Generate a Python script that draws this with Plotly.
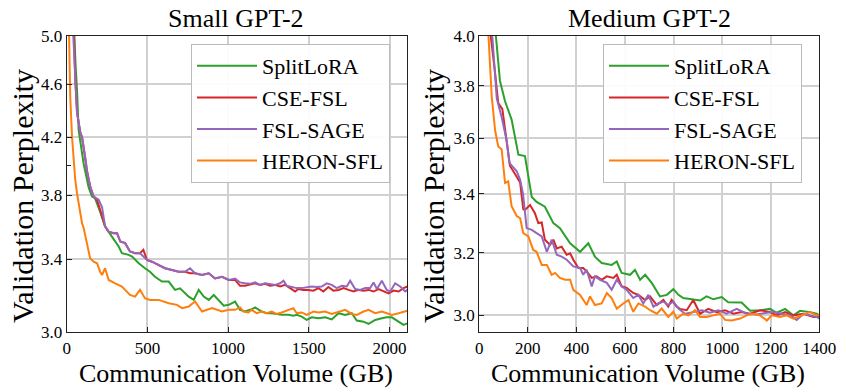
import plotly.graph_objects as go
import math

# ---------------- data: Small GPT-2 ----------------
s_green_x = [40, 47, 54, 64, 74, 105, 136, 157, 175, 207, 237, 280, 322, 342, 384, 405, 446, 485, 516, 547, 590, 632,
             671, 702, 756, 787, 818, 849, 880, 911, 942, 973, 1004, 1043, 1074, 1105, 1146, 1167, 1208, 1239, 1270,
             1332, 1373, 1404, 1425, 1456, 1487, 1518, 1560, 1601, 1642, 1684, 1725, 1766, 1797, 1839, 1870, 1911,
             1952, 1983, 2014, 2056, 2087, 2110]
s_green_y = [5.3, 5.0, 4.78, 4.55, 4.25, 4.01, 3.85, 3.79, 3.78, 3.693, 3.60, 3.537, 3.477, 3.437, 3.427, 3.417,
             3.378, 3.349, 3.329, 3.30, 3.273, 3.273, 3.226, 3.235, 3.189, 3.171, 3.226, 3.189, 3.171, 3.198, 3.171,
             3.139, 3.144, 3.162, 3.117, 3.108, 3.12, 3.13, 3.108, 3.099, 3.099, 3.09, 3.09, 3.085, 3.09, 3.081,
             3.063, 3.077, 3.072, 3.077, 3.066, 3.099, 3.09, 3.099, 3.06, 3.054, 3.042, 3.063, 3.072, 3.077, 3.077,
             3.054, 3.037, 3.045]

s_red_x = [38, 43, 54, 64, 85, 95, 116, 126, 147, 167, 188, 207, 238, 260, 291, 312, 332, 362, 392, 424, 454, 475,
           497, 528, 570, 609, 652, 694, 733, 764, 795, 838, 880, 919, 962, 1004, 1043, 1074, 1105, 1136, 1167, 1198,
           1229, 1260, 1291, 1322, 1353, 1384, 1415, 1435, 1466, 1497, 1528, 1560, 1590, 1621, 1652, 1684, 1715,
           1746, 1777, 1808, 1839, 1870, 1901, 1932, 1963, 1994, 2025, 2056, 2087, 2110]
s_red_y = [5.3, 5.0, 4.62, 4.38, 4.23, 4.2, 4.05, 3.96, 3.85, 3.79, 3.769, 3.704, 3.60, 3.567, 3.557, 3.557, 3.507,
           3.497, 3.447, 3.437, 3.437, 3.457, 3.397, 3.387, 3.368, 3.349, 3.339, 3.329, 3.329, 3.32, 3.32, 3.31,
           3.32, 3.29, 3.30, 3.282, 3.282, 3.249, 3.249, 3.254, 3.263, 3.254, 3.26, 3.249, 3.254, 3.245, 3.254,
           3.236, 3.217, 3.231, 3.226, 3.226, 3.222, 3.236, 3.217, 3.242, 3.222, 3.226, 3.236, 3.226, 3.217, 3.226,
           3.222, 3.226, 3.217, 3.231, 3.217, 3.207, 3.222, 3.217, 3.236, 3.245]

s_purple_x = [36, 41, 54, 64, 85, 95, 116, 126, 147, 167, 198, 219, 238, 260, 291, 312, 332, 362, 392, 424, 454,
              497, 528, 570, 609, 652, 694, 733, 764, 795, 838, 880, 919, 962, 1004, 1043, 1074, 1105, 1136, 1167,
              1198, 1229, 1260, 1291, 1322, 1343, 1363, 1394, 1425, 1456, 1487, 1518, 1549, 1580, 1611, 1642, 1673,
              1704, 1735, 1756, 1787, 1818, 1849, 1880, 1901, 1922, 1952, 1983, 2004, 2035, 2066, 2097, 2110]
s_purple_y = [5.3, 5.0, 4.62, 4.38, 4.23, 4.2, 4.05, 3.96, 3.85, 3.79, 3.77, 3.72, 3.60, 3.567, 3.557, 3.557, 3.507,
              3.497, 3.447, 3.437, 3.437, 3.397, 3.387, 3.368, 3.349, 3.339, 3.329, 3.329, 3.349, 3.32, 3.31, 3.32,
              3.29, 3.30, 3.282, 3.29, 3.268, 3.263, 3.26, 3.268, 3.254, 3.263, 3.26, 3.254, 3.263, 3.278, 3.249,
              3.242, 3.236, 3.236, 3.242, 3.245, 3.242, 3.245, 3.263, 3.254, 3.236, 3.249, 3.245, 3.278, 3.231, 3.226,
              3.236, 3.236, 3.268, 3.231, 3.278, 3.226, 3.217, 3.263, 3.245, 3.217, 3.226]

s_orange_x = [0, 12, 22, 33, 53, 64, 85, 95, 105, 126, 145, 167, 188, 207, 219, 238, 260, 300, 342, 362, 392, 424,
              454, 485, 516, 570, 632, 683, 715, 756, 795, 838, 901, 962, 1004, 1043, 1074, 1095, 1126, 1146, 1177,
              1208, 1239, 1270, 1301, 1332, 1373, 1404, 1425, 1456, 1487, 1529, 1560, 1601, 1642, 1684, 1725, 1766,
              1797, 1839, 1870, 1911, 1952, 1983, 2014, 2056, 2087, 2110]
s_orange_y = [6.2, 5.0, 4.5, 4.2, 3.90, 3.81, 3.66, 3.62, 3.59, 3.497, 3.407, 3.387, 3.378, 3.329, 3.31, 3.349,
              3.282, 3.263, 3.245, 3.226, 3.198, 3.189, 3.226, 3.18, 3.171, 3.171, 3.153, 3.144, 3.126, 3.135, 3.162,
              3.108, 3.126, 3.108, 3.117, 3.117, 3.13, 3.108, 3.103, 3.117, 3.099, 3.108, 3.099, 3.108, 3.095, 3.103,
              3.117, 3.126, 3.099, 3.103, 3.09, 3.108, 3.103, 3.108, 3.095, 3.108, 3.117, 3.095, 3.09, 3.108, 3.117,
              3.099, 3.108, 3.099, 3.09, 3.099, 3.108, 3.112]

# ---------------- data: Medium GPT-2 ----------------
m_green_x = [55, 67, 85, 106, 133, 161, 188, 216, 236, 270, 305, 332, 374, 415, 449, 476, 504, 545, 566, 586, 621,
             641, 662, 683, 710, 744, 772, 799, 820, 840, 881, 909, 936, 964, 998, 1025, 1080, 1115, 1156, 1197,
             1225, 1259, 1293, 1321, 1362, 1389, 1400]
m_green_y = [4.15, 4.0, 3.82, 3.74, 3.67, 3.54, 3.535, 3.389, 3.372, 3.355, 3.299, 3.282, 3.231, 3.203, 3.231,
             3.187, 3.166, 3.16, 3.171, 3.134, 3.128, 3.144, 3.112, 3.128, 3.102, 3.059, 3.064, 3.082, 3.064, 3.054,
             3.05, 3.046, 3.059, 3.05, 3.057, 3.041, 3.04, 3.014, 3.016, 3.02, 3.008, 3.02, 3.0, 3.014, 3.01, 3.005,
             3.0]

m_red_x = [40, 47, 65, 78, 95, 115, 126, 154, 168, 181, 188, 209, 229, 243, 257, 270, 291, 305, 319, 339, 360, 374,
           387, 408, 428, 442, 463, 483, 504, 525, 552, 566, 586, 607, 634, 655, 683, 703, 731, 758, 778, 792, 813,
           826, 854, 881, 909, 943, 978, 1012, 1046, 1080, 1115, 1156, 1197, 1225, 1259, 1293, 1335, 1376, 1400]
m_red_y = [4.12, 4.0, 3.85, 3.733, 3.71, 3.57, 3.50, 3.46, 3.44, 3.346, 3.344, 3.361, 3.333, 3.299, 3.301, 3.243,
           3.226, 3.243, 3.214, 3.22, 3.193, 3.198, 3.177, 3.15, 3.15, 3.139, 3.118, 3.123, 3.112, 3.123, 3.118,
           3.128, 3.091, 3.086, 3.07, 3.064, 3.048, 3.059, 3.032, 3.048, 3.027, 3.048, 3.027, 3.02, 3.016, 3.048,
           3.005, 3.02, 3.01, 3.016, 3.005, 3.01, 3.005, 3.016, 3.01, 3.0, 3.01, 3.0, 3.005, 2.995, 2.995]

m_purple_x = [45, 54, 72, 92, 113, 124, 154, 168, 180, 195, 216, 236, 257, 278, 298, 319, 339, 360, 387, 415, 428,
              442, 463, 476, 497, 525, 545, 566, 586, 607, 634, 655, 675, 696, 717, 737, 758, 778, 799, 820, 847, 881,
              916, 950, 984, 1018, 1060, 1101, 1142, 1184, 1211, 1245, 1280, 1307, 1335, 1362, 1389, 1400]
m_purple_y = [4.12, 4.0, 3.75, 3.68, 3.59, 3.51, 3.48, 3.45, 3.40, 3.282, 3.276, 3.265, 3.254, 3.203, 3.243, 3.193,
              3.187, 3.177, 3.155, 3.15, 3.128, 3.144, 3.091, 3.123, 3.112, 3.102, 3.08, 3.112, 3.091, 3.08, 3.054,
              3.064, 3.037, 3.064, 3.027, 3.037, 3.043, 3.032, 3.043, 3.021, 3.005, 3.01, 3.016, 3.008, 3.016, 3.005,
              3.02, 3.005, 3.003, 3.008, 3.01, 3.005, 3.0, 2.986, 3.005, 3.0, 2.995, 2.99]

m_orange_x = [30, 37, 51, 65, 78, 92, 106, 119, 133, 154, 168, 181, 202, 222, 236, 257, 278, 298, 312, 332, 353, 374,
              387, 415, 442, 456, 476, 504, 525, 545, 566, 593, 614, 634, 655, 683, 703, 731, 751, 778, 799, 813, 840,
              861, 888, 909, 936, 964, 991, 1012, 1039, 1074, 1101, 1128, 1156, 1184, 1204, 1238, 1266, 1293, 1328,
              1362, 1389, 1400]
m_orange_y = [4.15, 4.0, 3.76, 3.63, 3.57, 3.56, 3.438, 3.444, 3.357, 3.323, 3.316, 3.265, 3.254, 3.209, 3.203, 3.16,
              3.16, 3.128, 3.134, 3.118, 3.112, 3.112, 3.08, 3.064, 3.032, 3.059, 3.032, 3.037, 3.07, 3.054, 3.021,
              3.037, 3.048, 3.011, 3.037, 3.027, 3.016, 3.005, 3.021, 2.995, 3.011, 2.99, 3.005, 3.0, 3.016, 2.995,
              2.995, 3.0, 3.005, 2.986, 2.984, 2.99, 3.0, 3.005, 3.0, 2.984, 3.0, 2.995, 3.0, 2.99, 3.0, 3.01, 3.0,
              3.0]

series_names = ["SplitLoRA", "CSE-FSL", "FSL-SAGE", "HERON-SFL"]
series_colors = ["#2ca02c", "#d62728", "#9467bd", "#ff7f0e"]

s_ticks = [3.0, 3.4, 3.8, 4.2, 4.6, 5.0]
s_ticktext = ["3.0", "3.4", "3.8", "4.2", "4.6", "5.0"]
m_ticks = [3.0, 3.2, 3.4, 3.6, 3.8, 4.0]
m_ticktext = ["3.0", "3.2", "3.4", "3.6", "3.8", "4.0"]
s_xticks = [0, 500, 1000, 1500, 2000]
m_xticks = [0, 200, 400, 600, 800, 1000, 1200, 1400]

FONT = "Liberation Serif, Times New Roman, serif"
W, H = 846, 392

fig = go.Figure()
small = [(s_green_x, s_green_y), (s_red_x, s_red_y), (s_purple_x, s_purple_y), (s_orange_x, s_orange_y)]
medium = [(m_green_x, m_green_y), (m_red_x, m_red_y), (m_purple_x, m_purple_y), (m_orange_x, m_orange_y)]
for (x, y), name, c in zip(small, series_names, series_colors):
    fig.add_trace(go.Scatter(x=x, y=y, mode="lines", name=name, line=dict(color=c, width=2),
                             xaxis="x", yaxis="y", legend="legend"))
for (x, y), name, c in zip(medium, series_names, series_colors):
    fig.add_trace(go.Scatter(x=x, y=y, mode="lines", name=name, line=dict(color=c, width=2),
                             xaxis="x2", yaxis="y2", legend="legend2"))

def px_x(p):
    return p / W

def px_y(p):
    return 1 - p / H

common_axis = dict(showline=True, linecolor="#222", linewidth=1.2, mirror=True, ticks="inside", ticklen=5,
                   tickcolor="#222", showgrid=True, gridcolor="#d0d0d0", gridwidth=1.5, zeroline=False,
                   automargin=False, tickfont=dict(family=FONT, size=17, color="black"))

legend_style = dict(xanchor="left", yanchor="top", bgcolor="rgba(255,255,255,0.92)",
                    bordercolor="#bbbbbb", borderwidth=1, font=dict(family=FONT, size=22, color="black"),
                    itemwidth=60, tracegroupgap=0)

fig.update_layout(
    width=W, height=H, autosize=False, margin=dict(l=0, r=0, t=0, b=0, pad=0),
    paper_bgcolor="white", plot_bgcolor="white",
    font=dict(family=FONT, color="black"),
    xaxis=dict(domain=[px_x(66.7), px_x(407.3)], range=[0, 2110], tickvals=s_xticks, anchor="y", **common_axis),
    yaxis=dict(domain=[px_y(332), px_y(36)], type="log", range=[math.log10(3.0), math.log10(5.0)],
               tickvals=s_ticks, ticktext=s_ticktext, anchor="x",
               minor=dict(tickvals=[4.0], ticks="inside", ticklen=4, tickcolor="#222", showgrid=False),
               **common_axis),
    xaxis2=dict(domain=[px_x(479.3), px_x(819.3)], range=[0, 1400], tickvals=m_xticks, anchor="y2", **common_axis),
    yaxis2=dict(domain=[px_y(332), px_y(36)], type="log", range=[math.log10(2.949), math.log10(4.0)],
                tickvals=m_ticks, ticktext=m_ticktext, anchor="x2", **common_axis),
    legend=dict(x=px_x(191), y=px_y(44), **legend_style),
    legend2=dict(x=px_x(603), y=px_y(44), **legend_style),
    showlegend=True,
)

ann_font = dict(family=FONT, size=26, color="black")
title_font = dict(family=FONT, size=26, color="black")
ylab_font = dict(family=FONT, size=30, color="black")
annotations = [
    dict(text="Small GPT-2", x=px_x(236), y=px_y(19), font=title_font),
    dict(text="Medium GPT-2", x=px_x(649), y=px_y(19), font=title_font),
    dict(text="Communication Volume (GB)", x=px_x(236), y=px_y(373), font=ann_font),
    dict(text="Communication Volume (GB)", x=px_x(648), y=px_y(373), font=ann_font),
    dict(text="Validation Perplexity", x=px_x(22), y=px_y(196), textangle=-90, font=ylab_font),
    dict(text="Validation Perplexity", x=px_x(433), y=px_y(196), textangle=-90, font=ylab_font),
]
for a in annotations:
    a.update(xref="paper", yref="paper", xanchor="center", yanchor="middle", showarrow=False, borderpad=0)
fig.update_layout(annotations=annotations)

fig.write_html("out.html", config={"responsive": False, "displayModeBar": False},
               post_script="document.body.style.margin='0';document.body.style.overflow='hidden';")
